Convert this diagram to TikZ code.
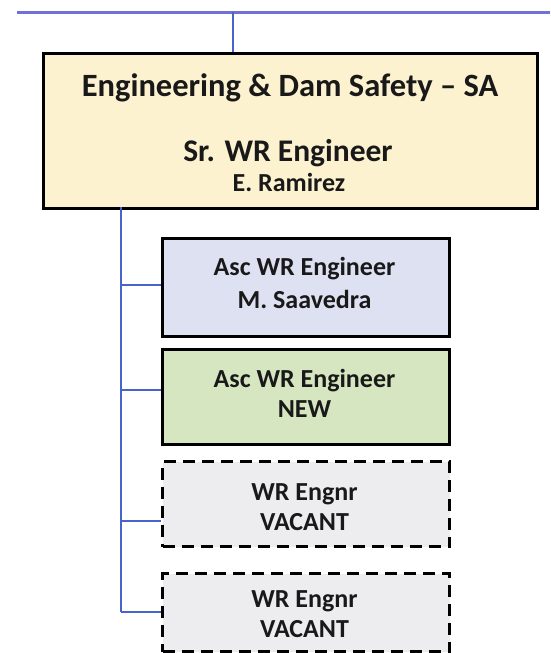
\documentclass[tikz,border=0pt]{standalone}
\usepackage{fontspec}
\setmainfont{Carlito}
\definecolor{mainfill}{RGB}{252,242,208}
\definecolor{ascfill}{RGB}{221,225,241}
\definecolor{newfill}{RGB}{214,230,192}
\definecolor{vacfill}{RGB}{237,237,239}
\definecolor{topblue}{RGB}{112,112,214}
\definecolor{linkblue}{RGB}{72,100,200}
\begin{document}
\begin{tikzpicture}[x=1pt,y=-1pt,
  box/.style={draw=black,line width=3pt,rectangle,inner sep=0pt,anchor=north west},
  vacant/.style={box,dash pattern=on 12pt off 7pt,fill=vacfill},
  lbl/.style={font=\bfseries\fontsize{26}{30}\selectfont,anchor=base,inner sep=0pt,text=black!90},
  biglbl/.style={lbl,font=\bfseries\fontsize{32.5}{36}\selectfont},
  midlbl/.style={lbl,font=\bfseries\fontsize{31.5}{36}\selectfont},
  link/.style={draw=linkblue,line width=2.5pt},
  toplink/.style={draw=topblue,line width=3pt}]
\useasboundingbox (0,0) rectangle (550,653);
\fill[white] (0,0) rectangle (550,653);

% boxes
\node[box,fill=mainfill,minimum width=494pt,minimum height=155pt] (main) at (42,52) {};
\node[box,fill=ascfill,minimum width=287pt,minimum height=98pt] (asc1) at (161,237) {};
\node[box,fill=newfill,minimum width=287pt,minimum height=95pt] (asc2) at (161,348) {};
\node[vacant,minimum width=287pt,minimum height=85pt] (vac1) at (161,460) {};
\node[vacant,minimum width=287pt,minimum height=78pt] (vac2) at (161,572) {};

% texts
\node[biglbl] (t1) at (290,96) {Engineering \& Dam Safety – SA};
\node[midlbl] (t2) at (288,161) {Sr. WR Engineer};
\node[lbl] (t3) at (289,191) {E. Ramirez};
\node[lbl] (a1) at (304.5,275) {Asc WR Engineer};
\node[lbl] (a2) at (304.5,308) {M. Saavedra};
\node[lbl] (n1) at (304.5,387) {Asc WR Engineer};
\node[lbl] (n2) at (304.5,417) {NEW};
\node[lbl] (v1) at (304.5,500) {WR Engnr};
\node[lbl] (v2) at (304.5,530) {VACANT};
\node[lbl] (w1) at (304.5,607) {WR Engnr};
\node[lbl] (w2) at (304.5,637) {VACANT};

% connectors
\coordinate (tl) at (17,12);
\coordinate (tr) at (550,12);
\coordinate (tj) at (233,12);
\draw[toplink] (tl) -- (tr);
\draw[link] (tj) -- (tj |- main.north);
\coordinate (tt) at (121,207);
\coordinate (b1) at (121,285);
\coordinate (b2) at (121,390);
\coordinate (b3) at (121,521);
\coordinate (b4) at (121,612);
\draw[link] (tt) -- (b4);
\draw[link] (b1) -- (b1 -| asc1.west);
\draw[link] (b2) -- (b2 -| asc2.west);
\draw[link] (b3) -- (b3 -| vac1.west);
\draw[link] (b4) -- (b4 -| vac2.west);
\end{tikzpicture}
\end{document}
